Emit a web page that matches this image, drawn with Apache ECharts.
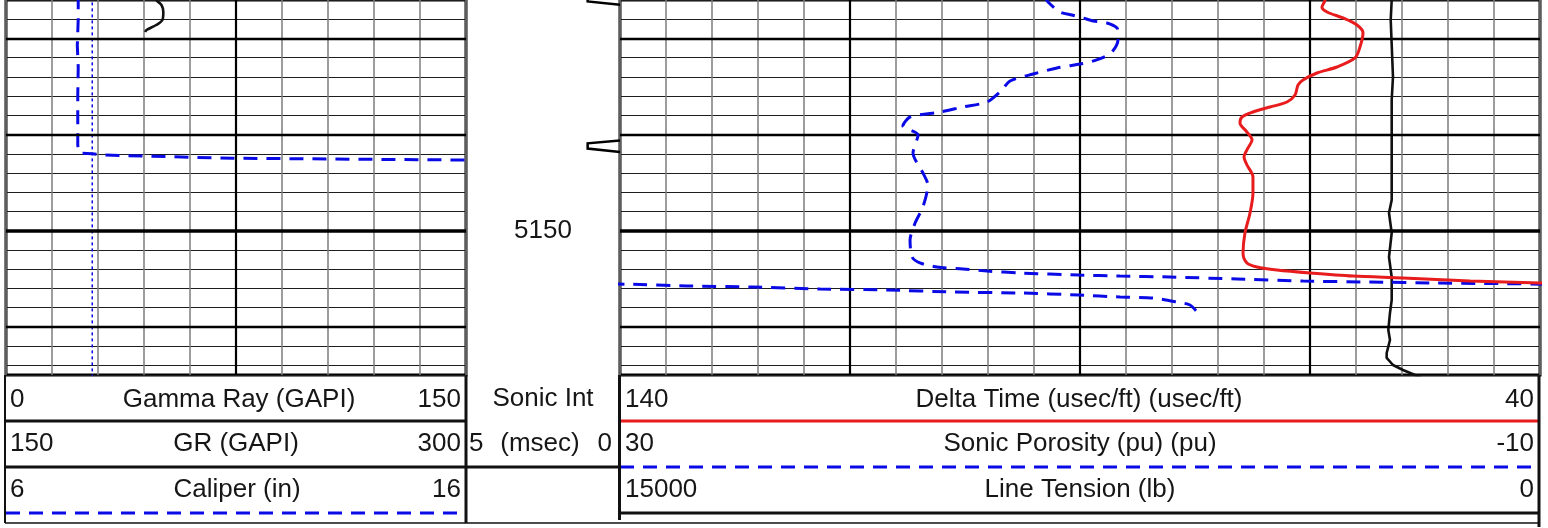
<!DOCTYPE html>
<html><head><meta charset="utf-8">
<script src="https://cdn.jsdelivr.net/npm/echarts@6/dist/echarts.min.js"></script>
<style>html,body{margin:0;padding:0;background:#fff}#c{width:1548px;height:528px}</style>
</head><body><div id="c"></div><script>
// ---- depth window ----
const depthTop = 5126, depthBottom = 5165;
const depthLabels = [5150];
const majorDepths = [5130, 5140, 5160];
const heavyDepths = [5150];

// ---- Track 1: Gamma Ray (0-150 GAPI) ----
const grDepth = [5125.5, 5126.0, 5126.52, 5127.25, 5128.08, 5128.6, 5129.12, 5129.33];
const grValue = [48.6, 49.0, 50.7, 51.3, 51.0, 49.0, 45.8, 45.4];

// ---- Track 1: Caliper (6-16 in) ----
const calDepth = [5125.5, 5128.0, 5130.7, 5133.0, 5136.0, 5139.0, 5141.1, 5141.6, 5141.86, 5141.94, 5142.0, 5142.12, 5142.46, 5142.64, 5142.8];
const calValue = [7.57, 7.57, 7.55, 7.57, 7.56, 7.56, 7.56, 7.58, 7.59, 7.65, 7.87, 8.11, 10.93, 15.98, 17.5];

// ---- Track 1: Bit size (in) ----
const bitDepth = [5125, 5166];
const bitValue = [7.875, 7.875];

// ---- Depth track: sonic integration pips (depth of each 1 msec pip) ----
const pipDepth = [5125.9, 5141.2];

// ---- Track 3: Delta Time (140-40 usec/ft) ----
const dtDepth = [5125.5, 5126.0, 5126.73, 5127.25, 5127.87, 5128.6, 5129.43, 5130.89, 5132.03, 5132.97, 5133.59, 5134.32, 5134.84, 5135.88, 5136.61, 5137.13, 5137.65, 5138.17, 5138.79, 5139.73, 5140.56, 5141.39, 5142.33, 5143.16, 5144.41, 5146.07, 5148.15, 5150.23, 5152.31, 5153.35, 5153.77, 5154.08, 5154.39, 5154.71, 5154.91, 5155.23, 5155.43, 5155.64];
const dtValue = [63.5, 63.37, 63.7, 63.15, 61.41, 59.89, 59.24, 59.57, 60.11, 62.07, 64.24, 65.76, 66.3, 66.63, 67.5, 69.35, 71.2, 72.39, 72.61, 71.85, 71.3, 71.74, 72.17, 71.85, 71.2, 71.2, 71.52, 72.07, 72.28, 71.85, 70.76, 68.59, 65.0, 60.33, 54.89, 47.61, 40.0, 33.5];

// ---- Track 3: Sonic Porosity (30 to -10 pu), backup wraps by 40 pu ----
const phiDepth = [5125.69, 5126.21, 5127.25, 5127.56, 5127.87, 5128.18, 5128.39, 5128.91, 5129.54, 5130.16, 5131.41, 5132.03, 5132.45, 5132.66, 5133.07, 5133.7, 5134.42, 5135.57, 5136.61, 5137.13, 5137.65, 5138.17, 5139.1, 5140.04, 5141.91, 5143.99, 5145.24, 5147.53, 5149.19, 5150.96, 5152.73, 5153.35, 5153.77, 5153.98, 5154.19, 5154.39, 5154.6, 5154.71, 5154.81, 5155.02, 5155.23, 5155.33, 5155.43, 5155.56, 5155.74, 5155.85, 5156.05, 5156.16, 5156.37, 5156.47, 5156.68, 5156.89, 5156.99, 5157.41, 5157.72, 5158.45];
const phiValue = [11.52, 11.39, 10.87, 10.35, 9.87, 9.43, 8.83, 8.39, 8.35, 8.35, 8.61, 9.04, 9.57, 10.0, 11.0, 12.04, 13.04, 13.48, 14.04, 15.09, 16.09, 17.39, 17.7, 17.04, 17.26, 16.83, 16.61, 16.83, 17.17, 17.39, 17.3, 16.96, 16.22, 15.09, 14.04, 12.61, 10.04, 8.26, 6.09, 3.17, 0.3, -2.61, -5.52, -10.3, -12.91, -15.78, -18.7, -21.61, -24.48, -27.39, -29.96, -31.74, -33.17, -34.22, -34.78, -35.09];
const phiBackupShift = 40;

// ---- Track 3: Line Tension (15000-0 lb) ----
const tenDepth = [5125.5, 5126.0, 5128.08, 5134.0, 5136.4, 5146.8, 5148.15, 5150.23, 5152.73, 5154.81, 5157.2, 5158.55, 5160.32, 5161.36, 5162.71, 5163.23, 5163.96, 5164.48, 5165.0, 5165.5];
const tenValue = [2418, 2418, 2434, 2397, 2418, 2418, 2462, 2418, 2462, 2418, 2418, 2446, 2473, 2446, 2500, 2500, 2397, 2234, 2038, 1875];

const BLUE = '#0a0ae6', RED = '#e81c1c', BLACK = '#111';
const FAMILY = '"Liberation Sans", Arial, sans-serif';
const FONT = '26px ' + FAMILY;
const pair = (vals, deps) => deps.map((d, i) => [vals[i], d]);

const chart = echarts.init(document.getElementById('c'), null, {renderer: 'canvas'});

const hidden = {axisLine: {show: false}, axisTick: {show: false}, axisLabel: {show: false}};
const thinH = {show: true, lineStyle: {color: '#1e1e1e', width: 1}};
const thinV = {show: true, lineStyle: {color: '#7c7c7c', width: 1.5}};

function depthMarks(xs) {
  const d = [];
  xs.forEach(x => d.push({xAxis: x, lineStyle: {color: '#000', width: 2.2, type: 'solid'}}));
  majorDepths.forEach(y => d.push({yAxis: y, lineStyle: {color: '#000', width: 2.4, type: 'solid'}}));
  heavyDepths.forEach(y => d.push({yAxis: y, lineStyle: {color: '#000', width: 3.5, type: 'solid'}}));
  return {symbol: 'none', silent: true, label: {show: false}, animation: false, data: d};
}

const graphics = [];
function txt(t, x, y, align) {
  graphics.push({type: 'text', x: x, y: y, silent: true,
    style: {text: t, font: FONT, fill: '#161616', textAlign: align, textVerticalAlign: 'middle', align: align, verticalAlign: 'middle'}});
}
function ln(x1, y1, x2, y2, color, w, dash) {
  graphics.push({type: 'line', silent: true, shape: {x1, y1, x2, y2},
    style: {stroke: color, lineWidth: w, lineDash: dash || null}});
}
// header texts
txt('0', 10, 400, 'left'); txt('Gamma Ray (GAPI)', 239, 400, 'center'); txt('150', 461, 400, 'right');
txt('150', 10, 444, 'left'); txt('GR (GAPI)', 236, 444, 'center'); txt('300', 461, 444, 'right');
txt('6', 10, 490, 'left'); txt('Caliper (in)', 237, 490, 'center'); txt('16', 461, 490, 'right');
txt('Sonic Int', 543, 399, 'center');
txt('5', 469, 444, 'left'); txt('(msec)', 540, 444, 'center'); txt('0', 612, 444, 'right');
txt('140', 625, 400, 'left'); txt('Delta Time (usec/ft) (usec/ft)', 1079, 400, 'center'); txt('40', 1534, 400, 'right');
txt('30', 625, 444, 'left'); txt('Sonic Porosity (pu) (pu)', 1080, 444, 'center'); txt('-10', 1534, 444, 'right');
txt('15000', 625, 490, 'left'); txt('Line Tension (lb)', 1080, 490, 'center'); txt('0', 1534, 490, 'right');
// header lines
ln(6, 421, 466, 421, '#111', 3);
ln(6, 467, 466, 467, '#111', 3);
ln(6, 513, 460, 513, BLUE, 3, [14, 9]);
ln(466, 467, 620, 467, '#111', 3);
ln(620, 421, 1540, 421, RED, 3);
ln(620, 467, 1540, 467, BLUE, 3, [14, 9]);
ln(620, 513, 1540, 513, '#111', 3);
ln(5, 375, 5, 523, '#111', 2);
ln(466, 375, 466, 523, '#111', 3);
ln(619.5, 375, 619.5, 520, '#111', 3);
ln(1539, 375, 1539, 527, '#111', 3);
ln(5, 523, 1539, 523, '#111', 1.5);

const option = {
  animation: false,
  backgroundColor: '#fff',
  grid: [
    {left: 6, top: 0, width: 460, height: 375, show: true, borderColor: '#000', borderWidth: 3, backgroundColor: 'transparent'},
    {left: 466, top: 0, width: 154, height: 375, show: false},
    {left: 620, top: 0, width: 920, height: 375, show: true, borderColor: '#000', borderWidth: 3, backgroundColor: 'transparent'}
  ],
  xAxis: [
    Object.assign({type: 'value', gridIndex: 0, min: 0, max: 150, interval: 15, splitLine: thinV}, hidden),
    Object.assign({type: 'value', gridIndex: 0, min: 6, max: 16, splitLine: {show: false}}, hidden),
    Object.assign({type: 'value', gridIndex: 1, min: 0, max: 1, splitLine: {show: false}}, hidden),
    Object.assign({type: 'value', gridIndex: 2, min: 40, max: 140, interval: 5, inverse: true, splitLine: thinV}, hidden),
    Object.assign({type: 'value', gridIndex: 2, min: -10, max: 30, inverse: true, splitLine: {show: false}}, hidden),
    Object.assign({type: 'value', gridIndex: 2, min: 0, max: 15000, inverse: true, splitLine: {show: false}}, hidden)
  ],
  yAxis: [
    Object.assign({type: 'value', gridIndex: 0, min: depthTop, max: depthBottom, interval: 2, inverse: true, splitLine: thinH}, hidden),
    Object.assign({type: 'value', gridIndex: 1, min: depthTop, max: depthBottom, inverse: true, splitLine: {show: false}}, hidden),
    Object.assign({type: 'value', gridIndex: 2, min: depthTop, max: depthBottom, interval: 2, inverse: true, splitLine: thinH}, hidden)
  ],
  graphic: graphics,
  series: [
    {type: 'line', xAxisIndex: 0, yAxisIndex: 0, data: [], z: 1, markLine: depthMarks([75])},
    {type: 'line', xAxisIndex: 3, yAxisIndex: 2, data: [], z: 1, markLine: depthMarks([115, 90, 65])},
    {name: 'Gamma Ray', type: 'line', xAxisIndex: 0, yAxisIndex: 0, z: 4, symbol: 'none', smooth: 0.3, clip: true,
      data: pair(grValue, grDepth), lineStyle: {color: BLACK, width: 2.6}},
    {name: 'Bit Size', type: 'line', xAxisIndex: 1, yAxisIndex: 0, z: 3, symbol: 'none', clip: true,
      data: pair(bitValue, bitDepth), lineStyle: {color: BLUE, width: 1.5, type: [3, 3]}},
    {name: 'Caliper', type: 'line', xAxisIndex: 1, yAxisIndex: 0, z: 4, symbol: 'none', clip: true,
      data: pair(calValue, calDepth), lineStyle: {color: BLUE, width: 3, type: [14, 9]}},
    {name: 'Sonic Int', type: 'custom', xAxisIndex: 2, yAxisIndex: 1, z: 4, clip: true,
      data: pipDepth.map(d => [1, d]),
      renderItem: function (params, api) {
        const d = api.value(1);
        const pts = [[1, d - 0.6], [0.79, d - 0.3], [0.79, d + 0.25], [1, d + 0.6]].map(p => api.coord(p));
        return {type: 'polyline', shape: {points: pts}, style: {stroke: '#000', lineWidth: 2.5, fill: null}};
      }},
    {name: 'Depth', type: 'scatter', xAxisIndex: 2, yAxisIndex: 1, z: 4, symbolSize: 0,
      itemStyle: {opacity: 1},
      data: depthLabels.map(d => [0.5, d]),
      label: {show: true, position: 'inside', formatter: p => String(p.value[1]), fontSize: 26, fontFamily: FAMILY, color: '#161616', opacity: 1}},
    {name: 'Line Tension', type: 'line', xAxisIndex: 5, yAxisIndex: 2, z: 4, symbol: 'none', clip: true,
      data: pair(tenValue, tenDepth), lineStyle: {color: BLACK, width: 2.6}},
    {name: 'Sonic Porosity', type: 'line', xAxisIndex: 4, yAxisIndex: 2, z: 5, symbol: 'none', smooth: 0.25, clip: true,
      data: pair(phiValue, phiDepth), lineStyle: {color: BLUE, width: 3, type: [14, 9]}},
    {name: 'Sonic Porosity backup', type: 'line', xAxisIndex: 4, yAxisIndex: 2, z: 5, symbol: 'none', smooth: 0.25, clip: true,
      data: pair(phiValue.map(v => v + phiBackupShift), phiDepth), lineStyle: {color: BLUE, width: 3, type: [14, 9]}},
    {name: 'Delta Time', type: 'line', xAxisIndex: 3, yAxisIndex: 2, z: 6, symbol: 'none', smooth: 0.3, clip: true,
      data: pair(dtValue, dtDepth), lineStyle: {color: RED, width: 3}}
  ]
};
chart.setOption(option);
</script></body></html>
